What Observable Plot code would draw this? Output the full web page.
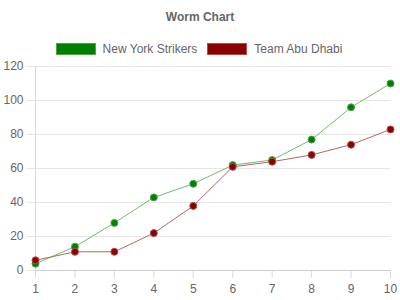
<!DOCTYPE html>
<html><head><meta charset="utf-8">
<script src="https://cdn.jsdelivr.net/npm/d3@7"></script>
<script src="https://cdn.jsdelivr.net/npm/@observablehq/plot@0.6"></script>
<style>
body{margin:0;background:#fff;font-family:"Liberation Sans",Arial,sans-serif;}
#wrap{width:400px;height:300px;overflow:hidden;}
#title{height:34px;line-height:34px;text-align:center;font-weight:bold;font-size:12px;color:#666;}
#legend{height:26px;padding-top:8px;display:flex;justify-content:center;align-items:flex-start;font-size:12px;color:#666;padding-right:2px;box-sizing:border-box;}
.item{display:flex;align-items:center;margin:0 5px;}
.sw{width:38px;height:10px;margin-right:7px;}
svg{display:block;}
</style></head>
<body><div id="wrap">
<div id="title">Worm Chart</div>
<div id="legend"></div>
<div id="chart"></div>
</div>
<script>
const overs = [1,2,3,4,5,6,7,8,9,10];
const nyStrikers = [4,14,28,43,51,62,65,77,96,110];
const abuDhabi = [6,11,11,22,38,61,64,68,74,83];
const seriesNames = ["New York Strikers","Team Abu Dhabi"];
const pointColors = ["#008000","#8b0000"];
const borderColors = ["#4da64d","#ad4d4d"];
const lineColors = ["#6cbd6c","#b86565"];
const yTicks = [0,20,40,60,80,100,120];

const data = [];
overs.forEach((o,i)=>{
  data.push({over:o, runs:nyStrikers[i], team:seriesNames[0]});
  data.push({over:o, runs:abuDhabi[i], team:seriesNames[1]});
});

const legend = document.getElementById("legend");
seriesNames.forEach((n,i)=>{
  const it = document.createElement("div"); it.className="item";
  const sw = document.createElement("div"); sw.className="sw";
  sw.style.background = pointColors[i]; sw.style.border = "1px solid "+borderColors[i];
  it.appendChild(sw);
  const t = document.createElement("span"); t.textContent = n; it.appendChild(t);
  legend.appendChild(it);
});

const chart = Plot.plot({
  width: 400, height: 240,
  marginTop: 6, marginBottom: 30, marginLeft: 35, marginRight: 10,
  style: {fontFamily: '"Liberation Sans", Arial, sans-serif', fontSize: "12px", color: "#666"},
  x: {domain: [1,10], ticks: overs},
  y: {domain: [0,120], ticks: yTicks},
  color: {domain: seriesNames, range: lineColors},
  marks: [
    Plot.gridY({ticks: yTicks.slice(1), stroke: "#e6e6e6", strokeOpacity: 1}),
    Plot.axisY({ticks: yTicks, tickSize: 8, tickPadding: 4, stroke: "#e6e6e6", strokeOpacity: 1, fill: "#666", label: null}),
    Plot.axisX({ticks: overs, tickSize: 8, tickPadding: 6, stroke: "#d9d9d9", strokeOpacity: 1, fill: "#666", label: null, tickFormat: d=>d}),
    Plot.ruleX([1], {stroke: "#d9d9d9"}),
    Plot.ruleY([0], {stroke: "#cccccc"}),
    Plot.line(data, {x: "over", y: "runs", z: "team", stroke: "team", strokeWidth: 1}),
    Plot.dot(data, {x: "over", y: "runs", r: 3.5, fill: d => pointColors[seriesNames.indexOf(d.team)], stroke: d => borderColors[seriesNames.indexOf(d.team)], strokeWidth: 1})
  ]
});
document.getElementById("chart").appendChild(chart);
</script>
</body></html>
